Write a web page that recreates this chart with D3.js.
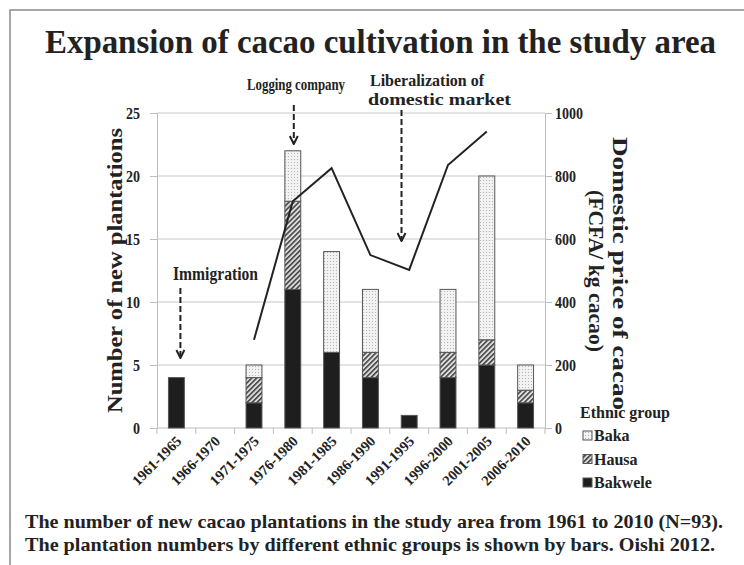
<!DOCTYPE html>
<html lang="en">
<head>
<meta charset="UTF-8" />
<title>Expansion of cacao cultivation</title>
<script src="https://d3js.org/d3.v7.min.js"></script>
<style>
  body { margin: 0; background: #fff; }
  svg { display: block; }
  svg text { font-family: "Liberation Serif", "Times New Roman", Tinos, "DejaVu Serif", serif !important; font-weight: bold; }
</style>
</head>
<body>
<svg width="744" height="565"></svg>
<script>
const periods = ["1961-1965","1966-1970","1971-1975","1976-1980","1981-1985","1986-1990","1991-1995","1996-2000","2001-2005","2006-2010"];
const bakwele = [4, 0, 2, 11, 6, 4, 1, 4, 5, 2];
const hausa   = [0, 0, 2, 7, 0, 2, 0, 2, 2, 1];
const baka    = [0, 0, 1, 4, 8, 5, 0, 5, 13, 2];
// price line, null where no value
const price   = [null, null, 280, 720, 825, 549, 502, 835, 941, null];
const leftTicks = [0, 5, 10, 15, 20, 25];
const rightTicks = [0, 200, 400, 600, 800, 1000];

const svg = d3.select("svg");
const m = { left: 157, right: 545, top: 113, bottom: 428 };

// frame
svg.append("rect").attr("x", 10).attr("y", 10).attr("width", 760).attr("height", 580)
  .attr("fill", "none").attr("stroke", "#8a8a8a").attr("stroke-width", 1.5);

// patterns
const defs = svg.append("defs");
const pDot = defs.append("pattern").attr("id", "dots").attr("patternUnits", "userSpaceOnUse")
  .attr("width", 3).attr("height", 3);
pDot.append("rect").attr("width", 3).attr("height", 3).attr("fill", "#f2f2f2");
pDot.append("rect").attr("width", 1).attr("height", 1).attr("fill", "#b5b5b5");
const pHatch = defs.append("pattern").attr("id", "hatch").attr("patternUnits", "userSpaceOnUse")
  .attr("width", 3.5).attr("height", 3.5).attr("patternTransform", "rotate(45)");
pHatch.append("rect").attr("width", 3.5).attr("height", 3.5).attr("fill", "#dcdcdc");
pHatch.append("rect").attr("width", 1.6).attr("height", 3.5).attr("fill", "#444");

const x = d3.scaleBand().domain(periods).range([m.left, m.right]).paddingInner(0.59).paddingOuter(0.295);
const y = d3.scaleLinear().domain([0, 25]).range([m.bottom, m.top]);
const y2 = d3.scaleLinear().domain([0, 1000]).range([m.bottom, m.top]);

// gridlines
svg.append("g").selectAll("line").data(leftTicks.slice(1)).join("line")
  .attr("x1", m.left).attr("x2", m.right)
  .attr("y1", d => y(d)).attr("y2", d => y(d))
  .attr("stroke", "#c8c8c8").attr("stroke-width", 1);

// left axis
const gl = svg.append("g").attr("transform", `translate(${m.left},0)`)
  .call(d3.axisLeft(y).tickValues(leftTicks).tickSize(7).tickPadding(10));
// right axis
const gr = svg.append("g").attr("transform", `translate(${m.right},0)`)
  .call(d3.axisRight(y2).tickValues(rightTicks).tickFormat(d3.format("d")).tickSize(7).tickPadding(3));
[gl, gr].forEach(g => {
  g.attr("font-family", null);
  g.select(".domain").attr("stroke", "#bdbdbd");
  g.selectAll(".tick line").attr("stroke", "#bdbdbd");
  g.selectAll("text").attr("font-size", 16).attr("fill", "#222")
    .attr("textLength", function() { return this.textContent.length * 7; })
    .attr("lengthAdjust", "spacingAndGlyphs");
});

// bottom axis with ticks between categories
const bandStep = x.step();
const gb = svg.append("g");
gb.append("line").attr("x1", m.left).attr("x2", m.right).attr("y1", m.bottom).attr("y2", m.bottom)
  .attr("stroke", "#bdbdbd");
gb.selectAll("line.tk").data(d3.range(periods.length + 1)).join("line").attr("class", "tk")
  .attr("x1", i => m.left + i * bandStep).attr("x2", i => m.left + i * bandStep)
  .attr("y1", m.bottom).attr("y2", m.bottom + 6).attr("stroke", "#bdbdbd");
gb.selectAll("text").data(periods).join("text")
  .attr("transform", d => `translate(${x(d) + x.bandwidth() / 2 + 6},${m.bottom + 14}) rotate(-45)`)
  .attr("text-anchor", "end").attr("font-size", 14.5).attr("fill", "#222")
  .text(d => d);

// stacked bars
const rows = periods.map((p, i) => ({ period: p, Bakwele: bakwele[i], Hausa: hausa[i], Baka: baka[i] }));
const keys = ["Bakwele", "Hausa", "Baka"];
const fills = { Bakwele: "#1e1e1e", Hausa: "url(#hatch)", Baka: "url(#dots)" };
const stack = d3.stack().keys(keys)(rows);
svg.append("g").selectAll("g").data(stack).join("g")
  .attr("fill", d => fills[d.key])
  .selectAll("rect").data(d => d.filter(s => s[1] > s[0])).join("rect")
  .attr("x", d => x(d.data.period)).attr("width", x.bandwidth())
  .attr("y", d => y(d[1])).attr("height", d => y(d[0]) - y(d[1]))
  .attr("stroke", "#555").attr("stroke-width", 1);

// price line
const line = d3.line().defined(d => d[1] != null)
  .x(d => x(d[0]) + x.bandwidth() / 2).y(d => y2(d[1]));
svg.append("path").datum(periods.map((p, i) => [p, price[i]]))
  .attr("d", line).attr("fill", "none").attr("stroke", "#222").attr("stroke-width", 2);

// arrows
defs.append("marker").attr("id", "arr").attr("viewBox", "0 0 10 10").attr("refX", 9).attr("refY", 5)
  .attr("markerWidth", 5).attr("markerHeight", 5).attr("orient", "auto")
  .append("path").attr("d", "M1,1 L9,5 L1,9").attr("fill", "none").attr("stroke", "#222").attr("stroke-width", 2);
const arrows = [
  { x: x("1961-1965") + x.bandwidth() / 2 + 4, y1: 288, y2: 358 },
  { x: x("1976-1980") + x.bandwidth() / 2 + 1, y1: 105, y2: 144 },
  { x: 401.5, y1: 110, y2: 241 }
];
svg.append("g").selectAll("line").data(arrows).join("line")
  .attr("x1", d => d.x).attr("x2", d => d.x).attr("y1", d => d.y1).attr("y2", d => d.y2)
  .attr("stroke", "#222").attr("stroke-width", 2).attr("stroke-dasharray", "6,3")
  .attr("marker-end", "url(#arr)");

// annotation text
const notes = [
  { t: "Immigration", x: 173, y: 280, w: 85, fs: 18 },
  { t: "Logging company", x: 247, y: 90, w: 98, fs: 17 },
  { t: "Liberalization of", x: 370, y: 86, w: 114, fs: 17 },
  { t: "domestic market", x: 368, y: 105, w: 143, fs: 17 }
];
svg.append("g").selectAll("text").data(notes).join("text")
  .attr("x", d => d.x).attr("y", d => d.y).attr("font-size", d => d.fs)
  .attr("textLength", d => d.w).attr("lengthAdjust", "spacingAndGlyphs")
  .attr("fill", "#222").text(d => d.t);

// title
svg.append("text").attr("x", 45).attr("y", 53).attr("font-size", 33)
  .attr("textLength", 671).attr("lengthAdjust", "spacingAndGlyphs").attr("fill", "#222")
  .text("Expansion of cacao cultivation in the study area");

// axis titles
svg.append("text").attr("transform", "translate(122,413) rotate(-90)")
  .attr("font-size", 21).attr("textLength", 285).attr("lengthAdjust", "spacingAndGlyphs")
  .attr("fill", "#222").text("Number of new plantations");
svg.append("text").attr("transform", "translate(613,137) rotate(90)")
  .attr("font-size", 21).attr("textLength", 273).attr("lengthAdjust", "spacingAndGlyphs")
  .attr("fill", "#222").text("Domestic price of cacao");
svg.append("text").attr("transform", "translate(589,190) rotate(90)")
  .attr("font-size", 21).attr("textLength", 162).attr("lengthAdjust", "spacingAndGlyphs")
  .attr("fill", "#222").text("(FCFA/ kg cacao)");

// legend
const lg = svg.append("g");
lg.append("text").attr("x", 580).attr("y", 418).attr("font-size", 16).attr("fill", "#222").text("Ethnic group");
const legendItems = ["Baka", "Hausa", "Bakwele"];
legendItems.forEach((k, i) => {
  const yy = 441 + i * 23.5;
  lg.append("rect").attr("x", 583).attr("y", yy - 10).attr("width", 9).attr("height", 9)
    .attr("fill", fills[k]).attr("stroke", "#555").attr("stroke-width", 1);
  lg.append("text").attr("x", 594).attr("y", yy).attr("font-size", 16).attr("fill", "#222").text(k);
});

// caption
const caption = [
  { t: "The number of new cacao plantations in the study area from 1961 to 2010 (N=93).", y: 528, w: 698 },
  { t: "The plantation numbers by different ethnic groups is shown by bars. Oishi 2012.", y: 551, w: 690 }
];
svg.append("g").selectAll("text").data(caption).join("text")
  .attr("x", 25).attr("y", d => d.y).attr("font-size", 19)
  .attr("textLength", d => d.w).attr("lengthAdjust", "spacingAndGlyphs")
  .attr("fill", "#222").text(d => d.t);
</script>
</body>
</html>
